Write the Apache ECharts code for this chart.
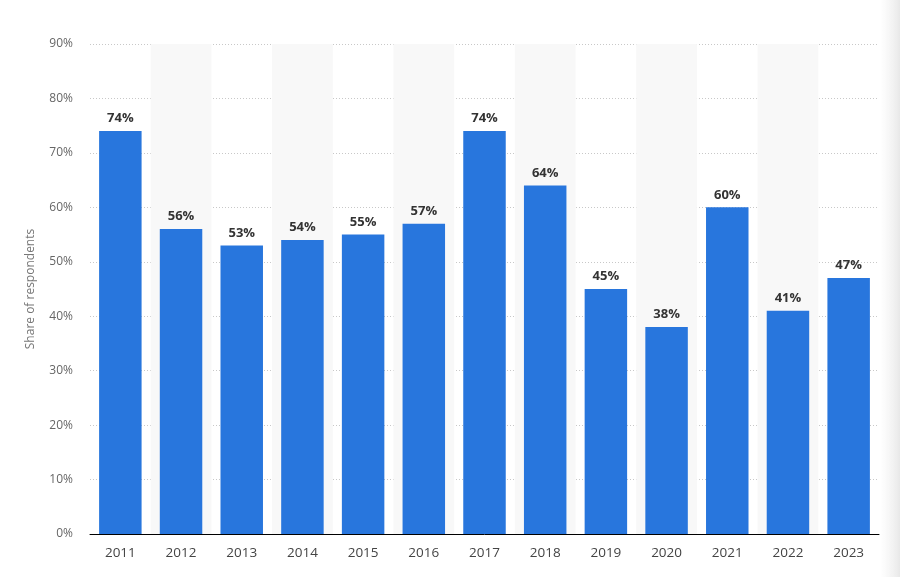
<!DOCTYPE html>
<html><head><meta charset="utf-8">
<script src="https://cdn.jsdelivr.net/npm/echarts@6/dist/echarts.min.js"></script>
<style>html,body{margin:0;padding:0;background:#fff}#c{width:900px;height:577px}</style>
</head><body><div id="c"></div>
<script>
const categories = ['2011','2012','2013','2014','2015','2016','2017','2018','2019','2020','2021','2022','2023'];
const values = [74,56,53,54,55,57,74,64,45,38,60,41,47];
const yTicks = [0,10,20,30,40,50,60,70,80,90];

const chart = echarts.init(document.getElementById('c'), null, {renderer:'canvas'});
chart.setOption({
  animation:false,
  graphic:[{
    type:'rect', left:880, top:0, shape:{width:20,height:577}, z:-10,
    style:{fill:new echarts.graphic.LinearGradient(0,0,1,0,[{offset:0,color:'rgba(240,240,240,0)'},{offset:1,color:'rgba(232,232,232,1)'}])}
  }],
  grid:{left:90,right:21,top:44,bottom:43},
  xAxis:{
    type:'category', data:categories,
    axisLine:{lineStyle:{color:'#000',width:1}},
    axisTick:{show:false},
    axisLabel:{color:'#444',fontSize:13.5,margin:12,fontFamily:'Open Sans, sans-serif'},
    splitArea:{show:true,areaStyle:{color:['rgba(255,255,255,0)','#f8f8f8']}}
  },
  yAxis:{
    type:'value', min:yTicks[0], max:yTicks[yTicks.length-1], interval:10,
    name:'Share of respondents', nameLocation:'middle', nameGap:53,
    nameTextStyle:{color:'#777',fontSize:12,fontFamily:'Open Sans, sans-serif'},
    axisLine:{show:false}, axisTick:{show:false},
    axisLabel:{color:'#666',fontSize:12,margin:17,formatter:'{value}%',fontFamily:'Open Sans, sans-serif'},
    splitLine:{lineStyle:{color:'#c8c8c8',type:[1,2]}}
  },
  series:[{
    type:'bar', data:values, barCategoryGap:'30%',
    itemStyle:{color:'#2876dd'},
    label:{show:true,position:'top',formatter:'{c}%',color:'#333',fontWeight:'bold',fontSize:13,distance:6,fontFamily:'Open Sans, sans-serif'}
  }]
});
</script></body></html>
